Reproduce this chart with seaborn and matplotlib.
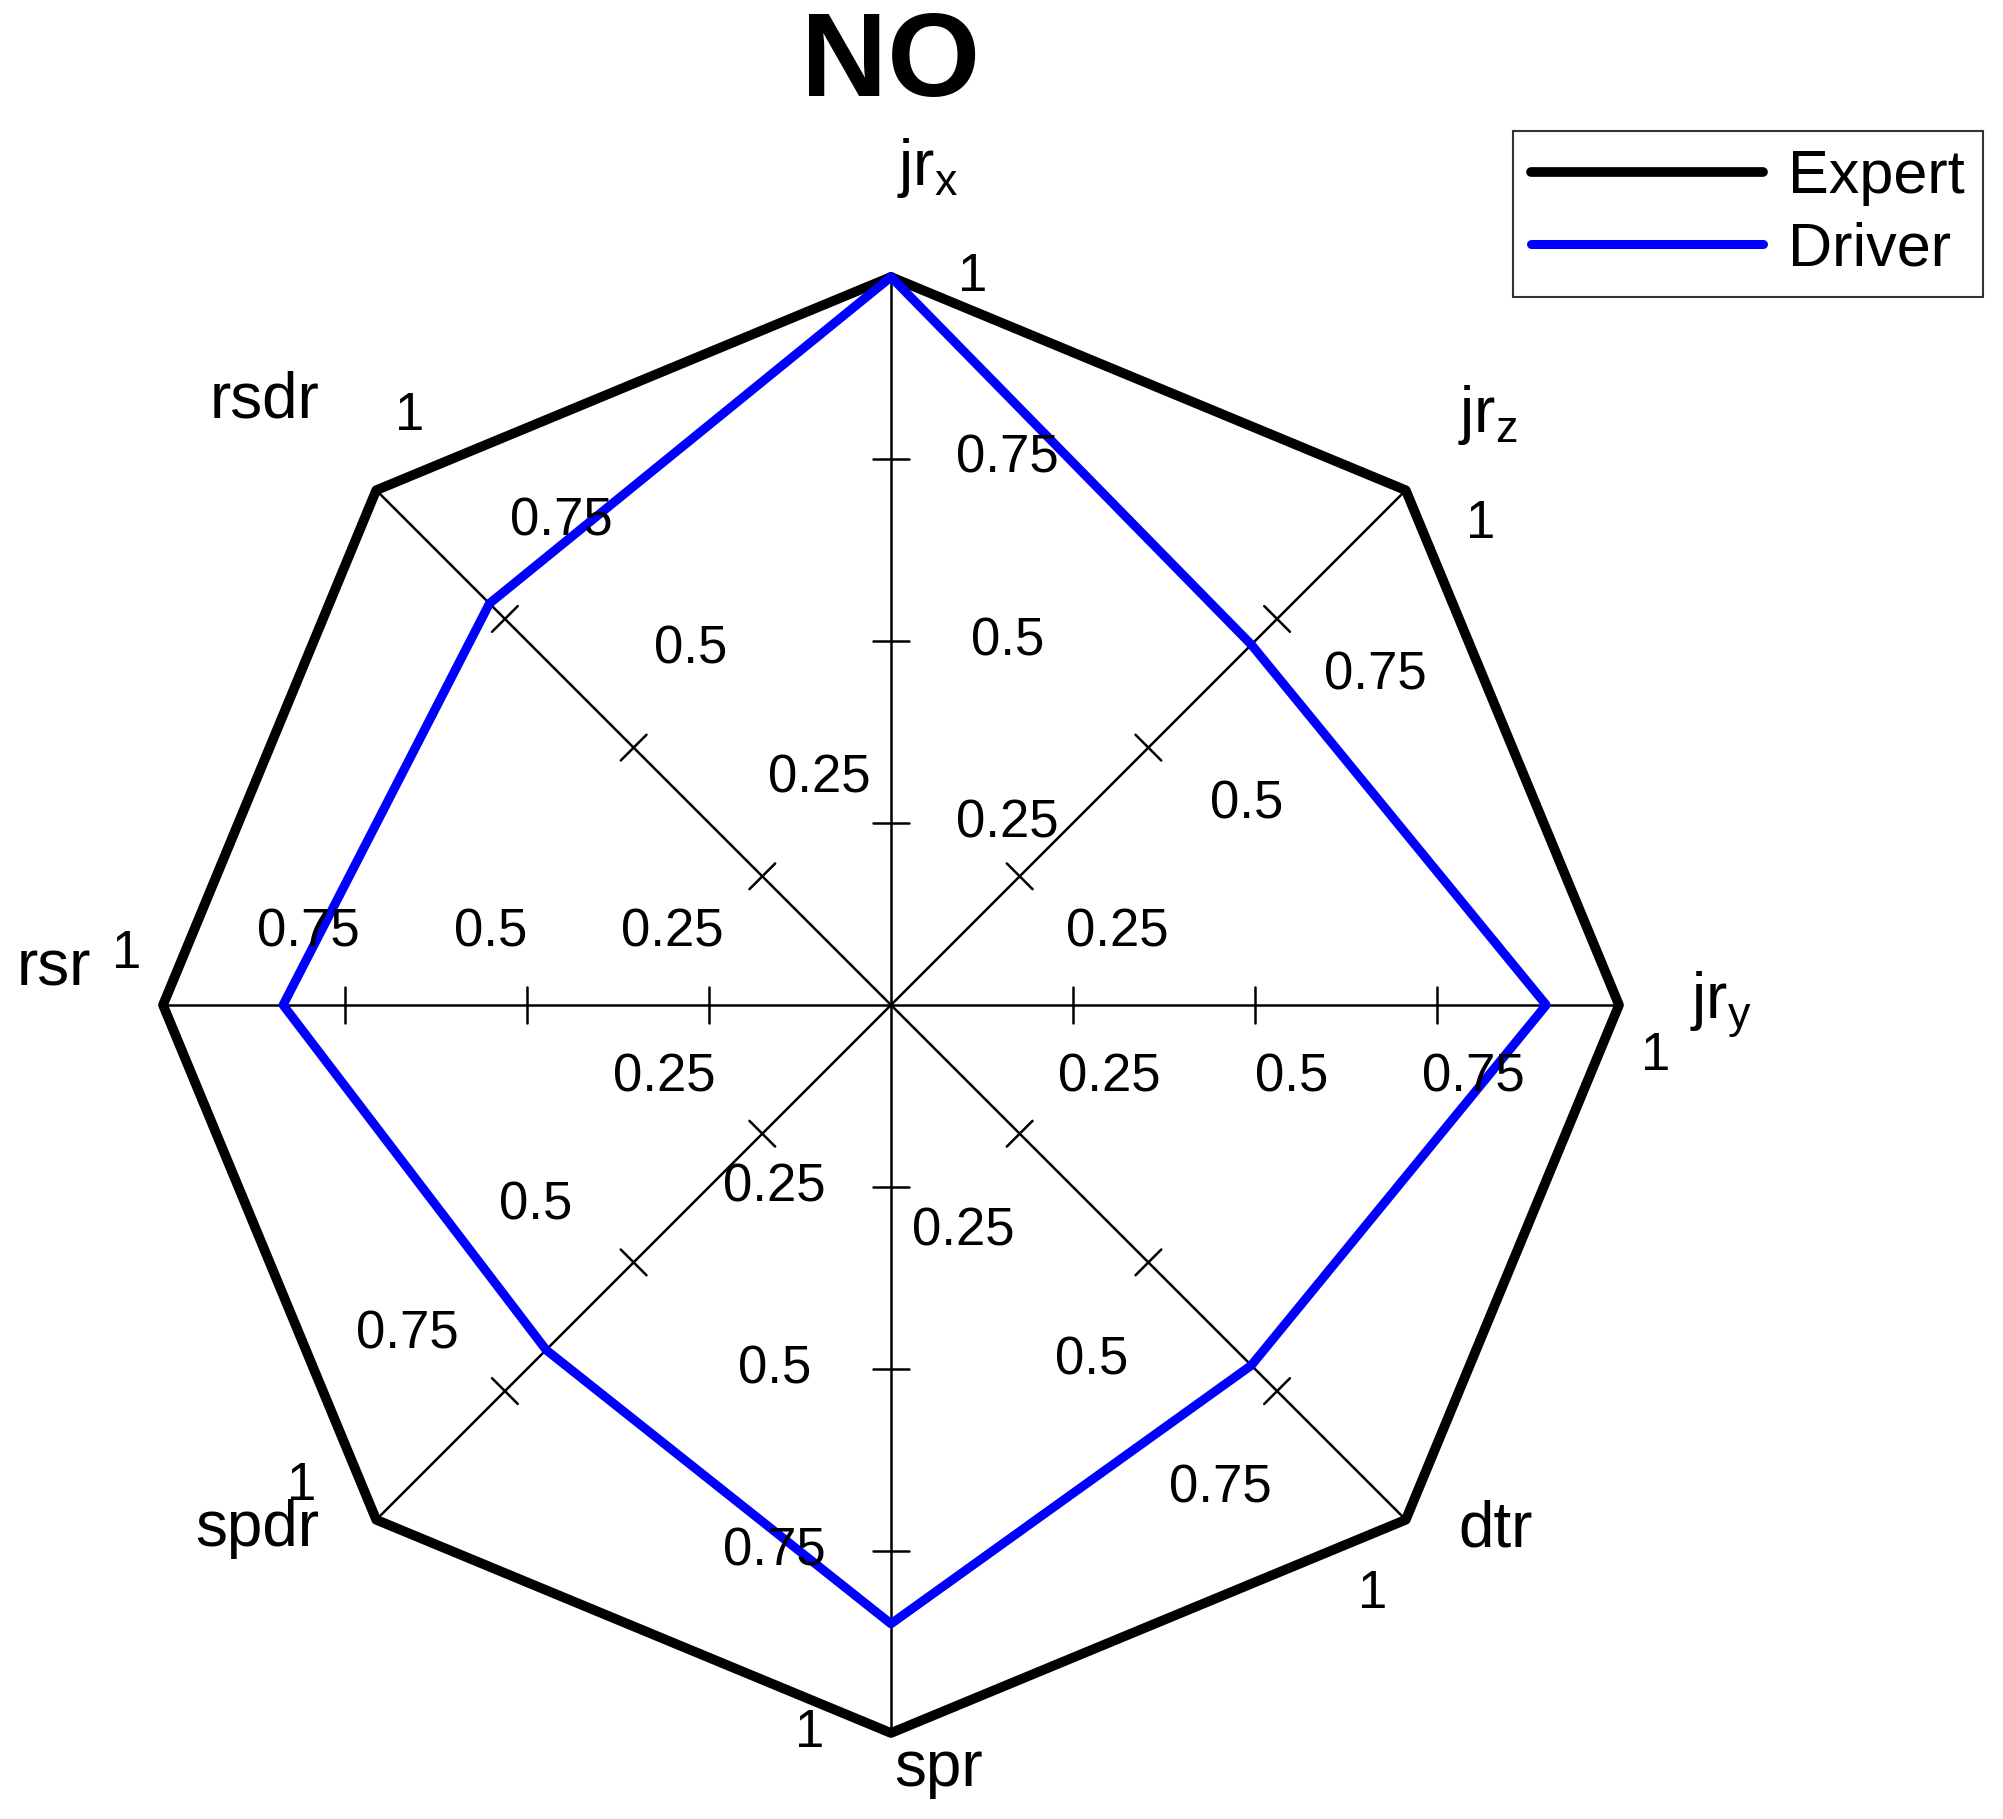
import numpy as np
import pandas as pd
import matplotlib
matplotlib.use("Agg")
import matplotlib.pyplot as plt
import seaborn as sns

sns.set_style("white")
plt.rcParams['font.family'] = ['Liberation Sans', 'DejaVu Sans']
plt.rcParams['text.color'] = 'black'
plt.rcParams['mathtext.fontset'] = 'custom'
plt.rcParams['mathtext.rm'] = 'Liberation Sans'
plt.rcParams['mathtext.it'] = 'Liberation Sans'

categories = [r'$\mathregular{jr_x}$', r'$\mathregular{jr_z}$', r'$\mathregular{jr_y}$', 'dtr',
              'spr', 'spdr', 'rsr', 'rsdr']
angles_deg = [90, 45, 0, -45, -90, -135, 180, 135]
expert = [1, 1, 1, 1, 1, 1, 1, 1]
driver = [1.0, 0.70, 0.90, 0.70, 0.85, 0.67, 0.835, 0.78]
tick_vals = [0.25, 0.5, 0.75, 1]
tick_labels = ['0.25', '0.5', '0.75', '1']

W, H = 2003, 1819
fig = plt.figure(figsize=(W/100, H/100), dpi=100)
ax = fig.add_axes([0, 0, 1, 1])
ppu = 728.0
cx, cy = 891, 1005
ax.set_xlim(-cx/ppu, (W-cx)/ppu)
ax.set_ylim(-(H-cy)/ppu, cy/ppu)
ax.set_aspect('equal')
ax.axis('off')

th = np.deg2rad(angles_deg)
dirs = np.stack([np.cos(th), np.sin(th)], axis=1)

for (dx, dy), a in zip(dirs, angles_deg):
    ax.plot([0, dx], [0, dy], color='black', lw=1.8, zorder=1)
    px, py = dy, -dx  # clockwise perpendicular
    if a % 180 == 0:
        perp, along = 0.10, 0.05
    elif a % 90 == 0:
        perp, along = 0.16, 0.0
    else:
        perp, along = 0.15, 0.04
    for v, lab in zip(tick_vals, tick_labels):
        if v < 1:
            ax.plot([v*dx - 0.025*px, v*dx + 0.025*px], [v*dy - 0.025*py, v*dy + 0.025*py],
                    color='black', lw=1.8, zorder=1)
        p = perp if v < 1 else perp * 0.7
        ox = v*dx + p*px + along*dx
        oy = v*dy + p*py + along*dy
        ax.text(ox, oy, lab, fontsize=38, ha='center', va='center', zorder=3)

def closed(vals):
    r = np.array(vals + [vals[0]])
    a = np.concatenate([th, th[:1]])
    return pd.DataFrame({'x': r*np.cos(a), 'y': r*np.sin(a)})

sns.lineplot(data=closed(expert), x='x', y='y', sort=False, estimator=None, color='black', lw=7,
             label='Expert', ax=ax, zorder=2)
sns.lineplot(data=closed(driver), x='x', y='y', sort=False, estimator=None, color='#0000ff', lw=6.5,
             label='Driver', ax=ax, zorder=2)

label_pos = {90: (0.05, 1.15), 45: (0.82, 0.81), 0: (1.14, 0.0), -45: (0.83, -0.72),
             -90: (0.065, -1.05), -135: (-0.87, -0.72), 180: (-1.15, 0.05), 135: (-0.86, 0.83)}
for cat, a in zip(categories, angles_deg):
    x, y = label_pos[a]
    ax.text(x, y, cat, fontsize=46, ha='center', va='center')

ax.text(0, 1.29, 'NO', fontsize=86, fontweight='bold', ha='center', va='center')

leg = ax.legend(loc='upper right', bbox_to_anchor=(0.990, 0.928), bbox_transform=fig.transFigure,
                borderaxespad=0, fontsize=44, frameon=True, fancybox=False, edgecolor='black',
                handlelength=3.8, borderpad=0.3, labelspacing=0.25, handletextpad=0.4)
leg.get_frame().set_linewidth(1.5)
for t in leg.get_texts():
    t.set_color('black')

fig.savefig('out.png', dpi=100)
